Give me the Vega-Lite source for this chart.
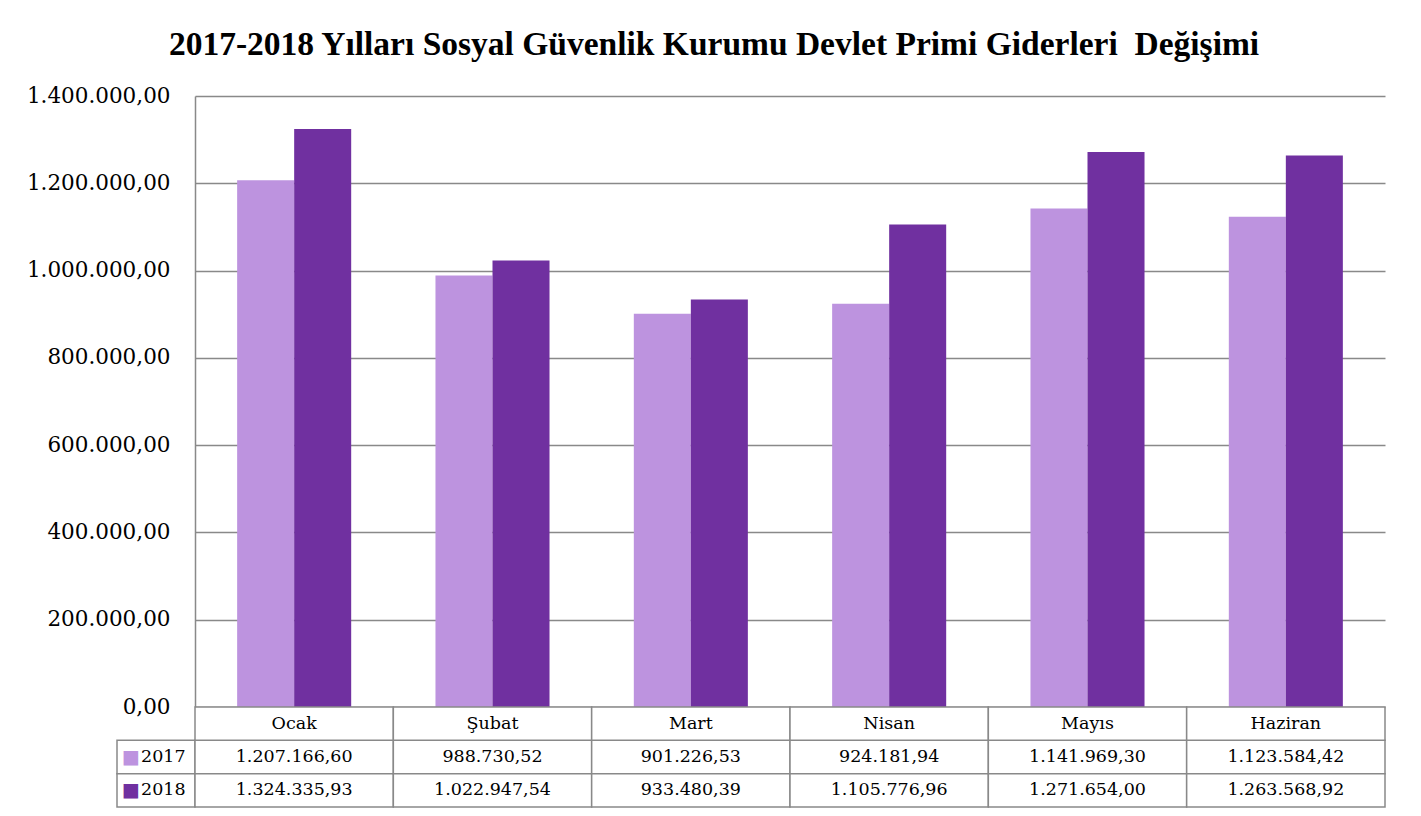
{
  "$schema": "https://vega.github.io/schema/vega-lite/v6.json",
  "background": "white",
  "padding": {"left": 26, "top": 27, "right": 30, "bottom": 5},
  "title": {
    "text": "2017-2018 Yılları Sosyal Güvenlik Kurumu Devlet Primi Giderleri\u00a0 Değişimi",
    "font": "Liberation Serif",
    "fontSize": 33.5,
    "fontWeight": "bold",
    "color": "black",
    "anchor": "middle",
    "offset": 23,
    "dx": 8
  },
  "data": {
    "values": [
      {"ay": "Ocak", "yil": "2017", "deger": 1207166.60},
      {"ay": "Ocak", "yil": "2018", "deger": 1324335.93},
      {"ay": "Şubat", "yil": "2017", "deger": 988730.52},
      {"ay": "Şubat", "yil": "2018", "deger": 1022947.54},
      {"ay": "Mart", "yil": "2017", "deger": 901226.53},
      {"ay": "Mart", "yil": "2018", "deger": 933480.39},
      {"ay": "Nisan", "yil": "2017", "deger": 924181.94},
      {"ay": "Nisan", "yil": "2018", "deger": 1105776.96},
      {"ay": "Mayıs", "yil": "2017", "deger": 1141969.30},
      {"ay": "Mayıs", "yil": "2018", "deger": 1271654.00},
      {"ay": "Haziran", "yil": "2017", "deger": 1123584.42},
      {"ay": "Haziran", "yil": "2018", "deger": 1263568.92}
    ]
  },
  "bounds": "flush",
  "spacing": 0,
  "hconcat": [
    {
      "width": 78,
      "height": 711,
      "transform": [{"filter": "datum.ay == 'Ocak'"}],
      "encoding": {
        "y": {
          "field": "yil",
          "type": "nominal",
          "scale": {"domain": ["Ay", "2017", "2018"], "range": [611, 711], "paddingInner": 0, "paddingOuter": 0},
          "axis": null
        }
      },
      "layer": [
        {"mark": {"type": "rect", "fill": "white", "stroke": "#898989", "strokeWidth": 1.5}},
        {
          "mark": {"type": "text", "text": "■", "font": "DejaVu Sans", "fontSize": 19, "dx": -25, "baseline": "middle", "align": "center"},
          "encoding": {
            "color": {"field": "yil", "type": "nominal", "scale": {"domain": ["2017", "2018"], "range": ["#BD93DF", "#7030A0"]}, "legend": null}
          }
        },
        {
          "mark": {"type": "text", "align": "left", "dx": -15, "font": "DejaVu Serif", "fontSize": 17.5, "baseline": "middle", "color": "black"},
          "encoding": {"text": {"field": "yil", "type": "nominal"}}
        }
      ]
    },
    {
      "width": 1190,
      "height": 711,
      "layer": [
        {
          "mark": {"type": "bar"},
          "encoding": {
            "x": {
              "field": "ay",
              "type": "nominal",
              "sort": ["Ocak", "Şubat", "Mart", "Nisan", "Mayıs", "Haziran"],
              "scale": {"paddingInner": 0.425, "paddingOuter": 0.2125},
              "axis": null
            },
            "xOffset": {"field": "yil", "type": "nominal", "sort": ["2017", "2018"]},
            "y": {
              "field": "deger",
              "type": "quantitative",
              "scale": {"domain": [0, 1400000], "nice": false, "range": [611, 0]},
              "axis": {
                "values": [0, 200000, 400000, 600000, 800000, 1000000, 1200000, 1400000],
                "format": ",.2f",
                "title": null,
                "ticks": false,
                "labelPadding": 25,
                "labelFont": "DejaVu Serif",
                "labelFontSize": 21.5,
                "labelColor": "black",
                "labelLimit": 300,
                "grid": true,
                "gridColor": "#898989",
                "gridWidth": 1.5,
                "domain": true,
                "domainColor": "#898989",
                "domainWidth": 1.5
              }
            },
            "color": {"field": "yil", "type": "nominal", "scale": {"domain": ["2017", "2018"], "range": ["#BD93DF", "#7030A0"]}, "legend": null}
          }
        },
        {
          "encoding": {
            "x": {
              "field": "ay",
              "type": "nominal",
              "sort": ["Ocak", "Şubat", "Mart", "Nisan", "Mayıs", "Haziran"],
              "scale": {"paddingInner": 0, "paddingOuter": 0},
              "axis": null
            },
            "y": {
              "field": "yil",
              "type": "nominal",
              "scale": {"domain": ["Ay", "2017", "2018"], "range": [611, 711], "paddingInner": 0, "paddingOuter": 0},
              "axis": null
            }
          },
          "layer": [
            {"mark": {"type": "rect", "fill": "white", "stroke": "#898989", "strokeWidth": 1.5}},
            {
              "transform": [{"filter": "datum.yil == '2017'"}],
              "mark": {"type": "rect", "fill": "white", "stroke": "#898989", "strokeWidth": 1.5},
              "encoding": {"y": {"datum": "Ay", "type": "nominal"}}
            },
            {
              "transform": [{"filter": "datum.yil == '2017'"}],
              "mark": {"type": "text", "font": "DejaVu Serif", "fontSize": 17.5, "baseline": "middle", "align": "center", "color": "black"},
              "encoding": {"y": {"datum": "Ay", "type": "nominal"}, "text": {"field": "ay", "type": "nominal"}}
            },
            {
              "mark": {"type": "text", "font": "DejaVu Serif", "fontSize": 17.5, "baseline": "middle", "align": "center", "color": "black"},
              "encoding": {"text": {"field": "deger", "type": "quantitative", "format": ",.2f"}}
            }
          ]
        }
      ],
      "resolve": {"scale": {"x": "independent", "y": "independent"}}
    }
  ],
  "config": {
    "view": {"stroke": null},
    "locale": {"number": {"decimal": ",", "thousands": ".", "grouping": [3], "currency": ["", ""]}}
  }
}
